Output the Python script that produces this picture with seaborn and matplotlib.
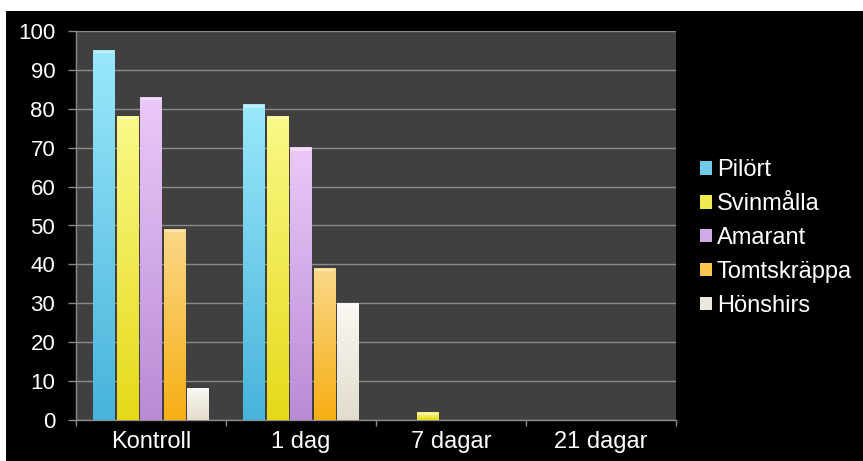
import numpy as np
import pandas as pd
import matplotlib
matplotlib.use("Agg")
import matplotlib.pyplot as plt
from matplotlib.colors import LinearSegmentedColormap
from matplotlib.patches import Rectangle
import seaborn as sns

# Data
categories = ["Kontroll", "1 dag", "7 dagar", "21 dagar"]
species = ["Pilört", "Svinmålla", "Amarant", "Tomtskräppa", "Hönshirs"]
pilort = [95, 81, 0, 0]
svinmalla = [78, 78, 2, 0]
amarant = [83, 70, 0, 0]
tomtskrappa = [49, 39, 0, 0]
honshirs = [8, 30, 0, 0]
y_ticks = list(range(0, 101, 10))

series_values = [pilort, svinmalla, amarant, tomtskrappa, honshirs]
df = pd.DataFrame({
    "Behandling": [c for _ in species for c in categories],
    "Art": [s for s in species for _ in categories],
    "Värde": [v for vals in series_values for v in vals],
})

# Vertical gradient per species: (top, bottom)
grad_colors = {
    "Pilört": ("#9ae8fb", "#48b3db"),
    "Svinmålla": ("#f9f988", "#e6d918"),
    "Amarant": ("#ebc8fa", "#b98bd4"),
    "Tomtskräppa": ("#fad888", "#f7ae14"),
    "Hönshirs": ("#faf8f2", "#e2dccd"),
}
mid_colors = {
    "Pilört": "#6fcbe8",
    "Svinmålla": "#eeea50",
    "Amarant": "#d2aae6",
    "Tomtskräppa": "#f9c650",
    "Hönshirs": "#ece8dd",
}

sns.set_theme(style="dark")
plt.rcParams["font.family"] = ["Liberation Sans", "DejaVu Sans"]

fig = plt.figure(figsize=(8.63, 4.61), dpi=100)
fig.patch.set_facecolor("white")
fig.patches.append(Rectangle((6 / 863, 0), 1 - 6 / 863, (461 - 11) / 461,
                             transform=fig.transFigure, facecolor="black",
                             edgecolor="none", zorder=-10))

ax = fig.add_axes([76 / 863, 1 - 420 / 461, 600 / 863, 389 / 461])
ax.set_facecolor("#404040")

sns.barplot(data=df, x="Behandling", y="Värde", hue="Art",
            order=categories, hue_order=species,
            palette=[mid_colors[s] for s in species],
            width=0.78, gap=0.07, legend=False, ax=ax, zorder=2,
            edgecolor="none", linewidth=0, errorbar=None)

# Replace flat fills with vertical gradients
n_cat = len(categories)
bars = [p for p in ax.patches if isinstance(p, Rectangle)]
for i, bar in enumerate(bars[: n_cat * len(species)]):
    sp = species[i // n_cat]
    h = bar.get_height()
    if h <= 0:
        continue
    x0 = bar.get_x()
    w = bar.get_width()
    top, bottom = grad_colors[sp]
    cmap = LinearSegmentedColormap.from_list(sp, [bottom, top])
    grad = np.linspace(0, 1, 256).reshape(-1, 1)
    ax.imshow(grad, extent=[x0, x0 + w, 0, h], origin="lower",
              cmap=cmap, aspect="auto", zorder=3, interpolation="bilinear")
    # light rim along the top edge
    ax.add_patch(Rectangle((x0 + w * 0.05, h - 0.75), w * 0.9, 0.6,
                           facecolor="white", alpha=0.4, edgecolor="none",
                           zorder=4))
    bar.set_visible(False)

ax.set_xlim(-0.5, n_cat - 0.5)
ax.set_ylim(0, 100)

# Grid and axes
ax.set_yticks(y_ticks)
ax.yaxis.grid(True, color="#8a8a8a", linewidth=1.0, zorder=1)
ax.xaxis.grid(False)
ax.set_axisbelow(True)
for side in ["top", "right"]:
    ax.spines[side].set_visible(False)
for side in ["left", "bottom"]:
    ax.spines[side].set_visible(True)
    ax.spines[side].set_color("#8a8a8a")
    ax.spines[side].set_linewidth(1.0)

ax.tick_params(axis="y", which="major", direction="out", length=6, width=1,
               color="#8a8a8a", labelcolor="white", labelsize=16, pad=9,
               left=True)

# Tick marks between groups, labels centred under groups
ax.set_xticks(np.arange(-0.5, n_cat, 1.0))
ax.set_xticklabels([])
ax.tick_params(axis="x", which="major", direction="out", length=4.5, width=1,
               color="#8a8a8a", bottom=True)
ax.set_xticks(np.arange(n_cat), minor=True)
ax.set_xticklabels(categories, minor=True)
ax.tick_params(axis="x", which="minor", length=0, labelcolor="white",
               labelsize=17, pad=8)
ax.set_xlabel("")
ax.set_ylabel("")

# Legend
handles = [Rectangle((0, 0), 1, 1, facecolor=mid_colors[s], edgecolor="none")
           for s in species]
leg = fig.legend(handles, species, loc="center left",
                 bbox_to_anchor=(691 / 863, 1 - 238 / 461),
                 frameon=False, fontsize=17, labelcolor="white",
                 handlelength=0.5, handleheight=0.5, handletextpad=0.2,
                 labelspacing=0.5, borderaxespad=0)

fig.savefig("out.png", dpi=100, facecolor=fig.get_facecolor())
